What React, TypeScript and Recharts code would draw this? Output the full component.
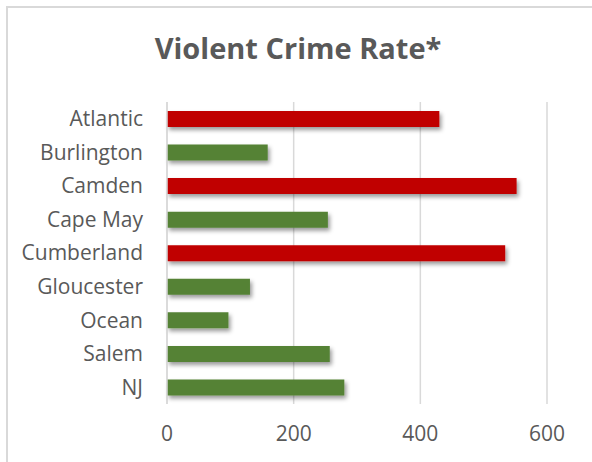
import React from "react";
import { Bar, BarChart, CartesianGrid, Cell, XAxis, YAxis } from "recharts";

// Violent crime rate per county (NJ = statewide rate)
const counties = ["Atlantic", "Burlington", "Camden", "Cape May", "Cumberland", "Gloucester", "Ocean", "Salem", "NJ"];
const rates = [430, 159, 552, 254, 534, 131, 97, 257, 280];
const flagged = ["Atlantic", "Camden", "Cumberland"];
const xTicks = [0, 200, 400, 600];

const data = counties.map((name, i) => ({ name, rate: rates[i] }));

const RED = "#C00000";
const GREEN = "#548235";
const TEXT = "#595959";
const GRID = "#D9D9D9";
const FONT = "'Open Sans', sans-serif";

export default function App() {
  return (
    <div style={{ position: "absolute", left: 0, top: 0, width: 592, height: 462, background: "#fff", overflow: "hidden" }}>
      {/* chart frame, only its top and left edges are visible */}
      <div
        style={{
          position: "absolute",
          left: 6,
          top: 6,
          width: 620,
          height: 500,
          borderTop: `2px solid ${GRID}`,
          borderLeft: `2px solid ${GRID}`,
        }}
      />
      <div
        style={{
          position: "absolute",
          left: 0,
          top: 28,
          width: 596,
          textAlign: "center",
          fontFamily: FONT,
          fontWeight: 700,
          fontSize: 29,
          lineHeight: 1.362,
          color: TEXT,
        }}
      >
        Violent Crime Rate*
      </div>
      <div style={{ position: "absolute", left: 0, top: 0 }}>
        <BarChart
          width={592}
          height={462}
          data={data}
          layout="vertical"
          margin={{ top: 102, right: 45, bottom: 28, left: 0 }}
        >
          <defs>
            <filter id="barShadow" x="-10%" y="-30%" width="130%" height="200%">
              <feDropShadow dx="2" dy="3" stdDeviation="2" floodColor="#000" floodOpacity="0.4" />
            </filter>
          </defs>
          <CartesianGrid horizontal={false} stroke={GRID} strokeWidth={1.5} />
          <XAxis
            type="number"
            domain={[0, 600]}
            ticks={xTicks}
            axisLine={false}
            tickLine={false}
            tickSize={0}
            tickMargin={22}
            height={30}
            tick={{ fill: TEXT, fontSize: 21, fontFamily: FONT }}
          />
          <YAxis
            type="category"
            dataKey="name"
            width={167}
            axisLine={{ stroke: GRID, strokeWidth: 1.5 }}
            tickLine={false}
            tickSize={0}
            tickMargin={24}
            tick={{ fill: TEXT, fontSize: 21, fontFamily: FONT }}
          />
          <Bar dataKey="rate" barSize={16} isAnimationActive={false} filter="url(#barShadow)">
            {data.map((d) => (
              <Cell key={d.name} fill={flagged.includes(d.name) ? RED : GREEN} />
            ))}
          </Bar>
        </BarChart>
      </div>
    </div>
  );
}
